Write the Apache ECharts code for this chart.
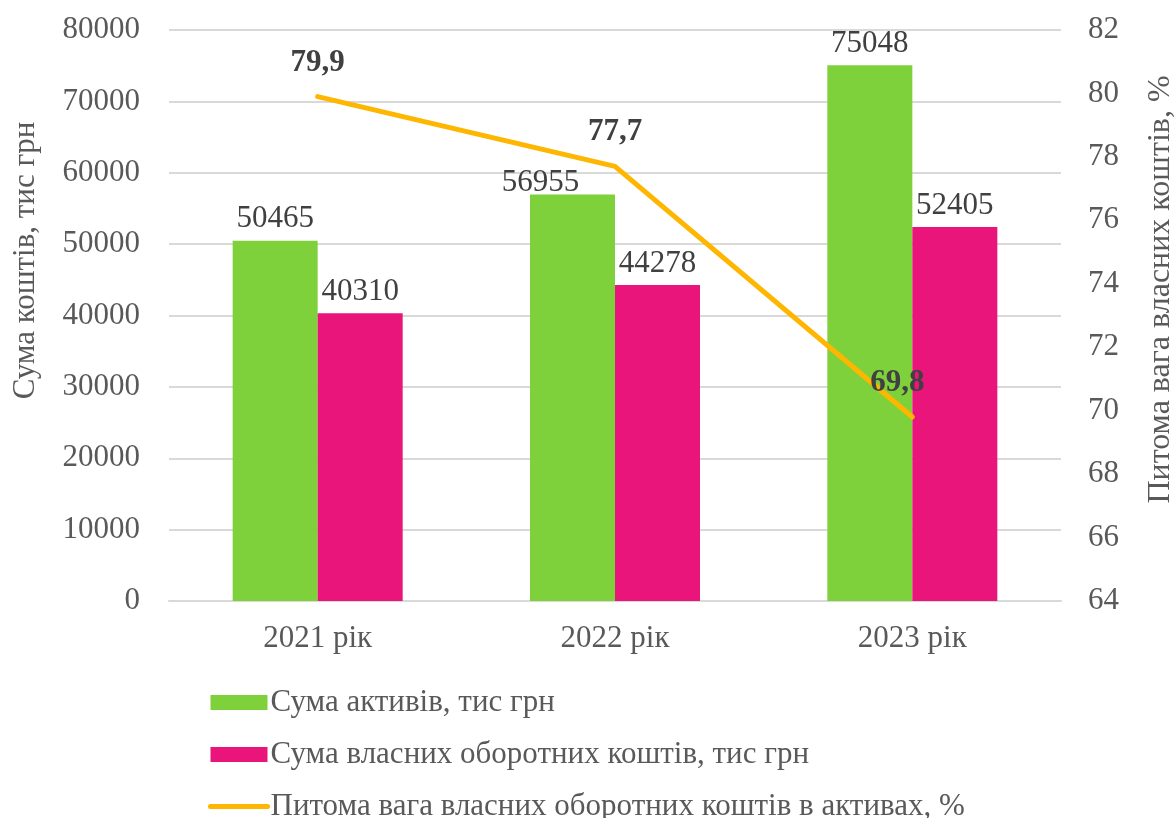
<!DOCTYPE html>
<html>
<head>
<meta charset="utf-8">
<script src="https://cdn.jsdelivr.net/npm/echarts@6/dist/echarts.min.js"></script>
<style>
    html, body { margin: 0; padding: 0; background: #fff; }
    #chart { width: 1176px; height: 818px; }
</style>
</head>
<body>
<div id="chart"></div>
<script>
const years = ["2021 рік", "2022 рік", "2023 рік"];
/** Сума активів */
const assets = [50465, 56955, 75048];
/** Сума власних оборотних коштів */
const ownFunds = [40310, 44278, 52405];
/** Питома вага, % */
const share = [79.9, 77.7, 69.8];

const FONT = "'Liberation Serif', 'Times New Roman', serif";
const GREY = "#595959";
const DARK = "#404040";
const FS = 31;

const chart = echarts.init(document.getElementById("chart"));

chart.setOption({
    animation: false,
    textStyle: { fontFamily: FONT },
    grid: { left: 169, right: 115, top: 30, bottom: 217, outerBoundsMode: "none" },
    legend: {
        orient: "vertical",
        left: 208,
        top: 687,
        height: 300,
        padding: 0,
        itemWidth: 57,
        itemHeight: 15,
        itemGap: 21,
        textStyle: { fontFamily: FONT, fontSize: FS, color: GREY, padding: [0, 0, 0, -2] },
        data: [
            { name: "Сума активів, тис грн", icon: "rect" },
            { name: "Сума власних оборотних коштів, тис грн", icon: "rect" },
            {
                name: "Питома вага власних оборотних коштів в активах, %",
                itemStyle: { opacity: 0 },
                lineStyle: { width: 5, cap: "round" },
            },
        ],
    },
    xAxis: {
        type: "category",
        data: years,
        axisLine: { lineStyle: { color: "#d9d9d9", width: 2 } },
        axisTick: { show: false },
        axisLabel: { fontFamily: FONT, fontSize: FS, color: GREY, margin: 22 },
    },
    yAxis: [
        {
            type: "value",
            min: 0,
            max: 80000,
            interval: 10000,
            name: "Сума коштів, тис грн",
            nameLocation: "middle",
            nameRotate: 90,
            nameGap: 128,
            nameTextStyle: { fontFamily: FONT, fontSize: FS, color: GREY, padding: [0, 0, 0, 110] },
            axisLine: { show: false },
            axisTick: { show: false },
            axisLabel: {
                fontFamily: FONT, fontSize: FS, color: GREY, margin: 29,
                formatter: (v) => String(v),
            },
            splitLine: { lineStyle: { color: "#d9d9d9", width: 2 } },
        },
        {
            type: "value",
            min: 64,
            max: 82,
            interval: 2,
            name: "Питома вага власних коштів, %",
            nameLocation: "middle",
            nameRotate: 90,
            nameGap: 84,
            nameTextStyle: { fontFamily: FONT, fontSize: 32, color: GREY, padding: [0, 0, 0, 52] },
            axisLine: { show: false },
            axisTick: { show: false },
            axisLabel: { fontFamily: FONT, fontSize: FS, color: GREY, margin: 27 },
            splitLine: { show: false },
        },
    ],
    series: [
        {
            name: "Сума активів, тис грн",
            type: "bar",
            barWidth: 85,
            barGap: "0%",
            itemStyle: { color: "#7FD13B" },
            label: {
                show: true,
                position: "top",
                distance: 6,
                fontFamily: FONT,
                fontSize: FS,
                color: DARK,
            },
            data: assets.map((v, i) => i === 1
                ? { value: v, label: { offset: [-32, 10] } }
                : v),
        },
        {
            name: "Сума власних оборотних коштів, тис грн",
            type: "bar",
            barWidth: 85,
            barGap: "0%",
            itemStyle: { color: "#EA157A" },
            label: {
                show: true,
                position: "top",
                distance: 6,
                fontFamily: FONT,
                fontSize: FS,
                color: DARK,
            },
            data: ownFunds,
        },
        {
            name: "Питома вага власних оборотних коштів в активах, %",
            type: "line",
            yAxisIndex: 1,
            symbol: "circle",
            symbolSize: 1,
            lineStyle: { color: "#FFB600", width: 5, cap: "round" },
            itemStyle: { color: "#FFB600" },
            label: {
                show: true,
                position: "top",
                distance: 18,
                fontFamily: FONT,
                fontSize: FS,
                fontWeight: "bold",
                color: DARK,
                formatter: (p) => String(p.value).replace(".", ","),
            },
            data: share.map((v, i) => i === 2
                ? { value: v, label: { offset: [-15, 0] } }
                : v),
        },
    ],
});
</script>
</body>
</html>
